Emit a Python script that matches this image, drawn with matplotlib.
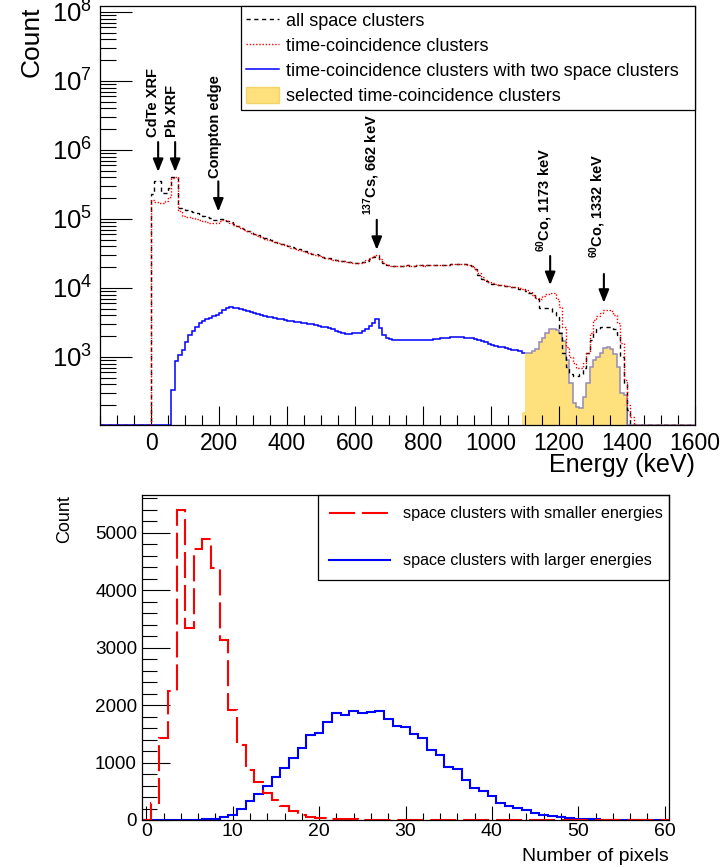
import numpy as np
import matplotlib
matplotlib.use('Agg')
import matplotlib.pyplot as plt
from matplotlib.lines import Line2D
from matplotlib.patches import Patch
from matplotlib.ticker import MultipleLocator, LogLocator, NullFormatter

plt.rcParams['font.family'] = ['Liberation Sans', 'DejaVu Sans']
plt.rcParams['mathtext.fontset'] = 'custom'
plt.rcParams['mathtext.rm'] = 'Liberation Sans'
plt.rcParams['mathtext.bf'] = 'Liberation Sans:bold'
plt.rcParams['mathtext.it'] = 'Liberation Sans:italic'

# ---------------- top panel data (counts per 10 keV bin) ----------------
bin_width_kev = 10
hist_range_kev = (-150, 1600)

all_space_start_kev = 0
all_space = [
    2.3e5, 3.5e5, 3.5e5, 2.4e5, 2.4e5, 2.8e5, 4.1e5, 4.1e5, 1.45e5, 1.38e5,   # 0-90
    1.33e5, 1.3e5, 1.26e5, 1.22e5, 1.17e5, 1.12e5, 1.07e5, 1.02e5, 9.8e4, 9.8e4,  # 100-190
    1.0e5, 9.9e4, 9.4e4, 8.9e4, 8.4e4, 7.9e4, 7.5e4, 7.1e4, 6.7e4, 6.4e4,  # 200-290
    6.1e4, 5.8e4, 5.55e4, 5.3e4, 5.1e4, 4.9e4, 4.7e4, 4.55e4, 4.4e4, 4.25e4,  # 300-390
    4.1e4, 3.95e4, 3.8e4, 3.65e4, 3.5e4, 3.4e4, 3.25e4, 3.15e4, 3.05e4, 2.95e4,  # 400-490
    2.85e4, 2.75e4, 2.7e4, 2.62e4, 2.55e4, 2.5e4, 2.45e4, 2.4e4, 2.37e4, 2.35e4,  # 500-590
    2.33e4, 2.33e4, 2.35e4, 2.45e4, 2.6e4, 2.8e4, 2.9e4, 2.6e4, 2.3e4, 2.18e4,  # 600-690
    2.12e4, 2.1e4, 2.08e4, 2.1e4, 2.1e4, 2.12e4, 2.1e4, 2.1e4, 2.12e4, 2.12e4,  # 700-790
    2.1e4, 2.12e4, 2.14e4, 2.14e4, 2.15e4, 2.15e4, 2.16e4, 2.18e4, 2.2e4, 2.2e4,  # 800-890
    2.22e4, 2.22e4, 2.2e4, 2.15e4, 2.05e4, 1.85e4, 1.55e4, 1.35e4, 1.25e4, 1.18e4,  # 900-990
    1.15e4, 1.12e4, 1.1e4, 1.08e4, 1.07e4, 1.05e4, 1.03e4, 1.0e4, 9.8e3, 9.5e3,  # 1000-1090
    9.0e3, 8.5e3, 7.8e3, 6.8e3, 5.2e3, 5.2e3, 5.2e3, 5.1e3, 4.5e3, 3.8e3,  # 1100-1190
    2.2e3, 1.15e3, 720, 560, 520, 520, 560, 690, 1.15e3, 1.76e3,  # 1200-1290
    2.2e3, 2.5e3, 2.75e3, 2.75e3, 2.75e3, 2.7e3, 2.5e3, 2.1e3, 1.0e3, 400,  # 1300-1390
    170,  # 1400
]

time_coinc_start_kev = 0
time_coinc = [
    1.85e5, 1.75e5, 1.72e5, 1.72e5, 1.8e5, 2.05e5, 3.9e5, 4.1e5, 1.3e5, 1.12e5,  # 0-90
    1.08e5, 1.05e5, 1.02e5, 9.9e4, 9.6e4, 9.3e4, 9.0e4, 8.7e4, 8.6e4, 8.8e4,  # 100-190
    9.3e4, 9.6e4, 9.2e4, 8.8e4, 8.3e4, 7.8e4, 7.4e4, 7.0e4, 6.6e4, 6.3e4,  # 200-290
    6.0e4, 5.7e4, 5.45e4, 5.2e4, 5.0e4, 4.8e4, 4.6e4, 4.45e4, 4.3e4, 4.15e4,  # 300-390
    4.0e4, 3.85e4, 3.7e4, 3.55e4, 3.45e4, 3.35e4, 3.2e4, 3.1e4, 3.0e4, 2.9e4,  # 400-490
    2.8e4, 2.72e4, 2.65e4, 2.58e4, 2.52e4, 2.47e4, 2.42e4, 2.38e4, 2.35e4, 2.33e4,  # 500-590
    2.32e4, 2.33e4, 2.36e4, 2.5e4, 2.7e4, 2.9e4, 3.0e4, 2.6e4, 2.3e4, 2.17e4,  # 600-690
    2.1e4, 2.1e4, 2.08e4, 2.1e4, 2.1e4, 2.12e4, 2.1e4, 2.1e4, 2.12e4, 2.12e4,  # 700-790
    2.1e4, 2.12e4, 2.14e4, 2.14e4, 2.15e4, 2.15e4, 2.16e4, 2.18e4, 2.2e4, 2.2e4,  # 800-890
    2.22e4, 2.22e4, 2.2e4, 2.16e4, 2.08e4, 1.9e4, 1.65e4, 1.45e4, 1.3e4, 1.22e4,  # 900-990
    1.18e4, 1.15e4, 1.12e4, 1.1e4, 1.08e4, 1.06e4, 1.04e4, 1.02e4, 1.0e4, 9.8e3,  # 1000-1090
    9.3e3, 8.8e3, 8.0e3, 7.2e3, 7.0e3, 7.6e3, 8.2e3, 8.5e3, 8.4e3, 7.0e3,  # 1100-1190
    5.3e3, 2.7e3, 1.4e3, 1.0e3, 820, 690, 700, 820, 1.15e3, 2.2e3,  # 1200-1290
    3.4e3, 3.9e3, 4.3e3, 4.8e3, 4.8e3, 4.6e3, 4.1e3, 3.1e3, 1.6e3, 460,  # 1300-1390
    200, 134,  # 1400-1410
]

two_space_start_kev = 60
two_space = [
    330, 880, 1.07e3, 1.26e3,  # 60-90
    1.67e3, 2.08e3, 2.4e3, 2.75e3, 3.1e3, 3.3e3, 3.5e3, 3.7e3, 3.9e3, 4.1e3,  # 100-190
    4.4e3, 4.8e3, 5.1e3, 5.25e3, 5.2e3, 5.05e3, 4.9e3, 4.75e3, 4.6e3, 4.45e3,  # 200-290
    4.3e3, 4.2e3, 4.1e3, 3.95e3, 3.8e3, 3.75e3, 3.65e3, 3.55e3, 3.5e3, 3.45e3,  # 300-390
    3.35e3, 3.3e3, 3.25e3, 3.2e3, 3.1e3, 3.05e3, 3.0e3, 2.95e3, 2.9e3, 2.85e3,  # 400-490
    2.75e3, 2.7e3, 2.6e3, 2.5e3, 2.4e3, 2.3e3, 2.2e3, 2.15e3, 2.15e3, 2.2e3,  # 500-590
    2.2e3, 2.25e3, 2.35e3, 2.5e3, 2.8e3, 3.1e3, 3.5e3, 2.6e3, 2.1e3, 1.9e3,  # 600-690
    1.8e3, 1.78e3, 1.78e3, 1.76e3, 1.76e3, 1.75e3, 1.75e3, 1.74e3, 1.73e3, 1.73e3,  # 700-790
    1.73e3, 1.73e3, 1.78e3, 1.8e3, 1.82e3, 1.85e3, 1.88e3, 1.9e3, 1.92e3, 1.93e3,  # 800-890
    1.93e3, 1.92e3, 1.9e3, 1.88e3, 1.85e3, 1.8e3, 1.75e3, 1.7e3, 1.62e3, 1.55e3,  # 900-990
    1.5e3, 1.45e3, 1.4e3, 1.37e3, 1.33e3, 1.3e3, 1.27e3, 1.25e3, 1.2e3, 1.15e3,  # 1000-1090
]

selected_start_kev = 1090
selected = [
    160,  # 1090
    1.13e3, 1.15e3, 1.2e3, 1.3e3, 1.67e3, 1.9e3, 2.2e3, 2.5e3, 2.5e3, 2.45e3,  # 1100-1190
    2.2e3, 1.7e3, 900, 420, 215, 190, 180, 265, 420, 720,  # 1200-1290
    900, 1.0e3, 1.13e3, 1.35e3, 1.4e3, 1.3e3, 1.1e3, 720, 300, 280,  # 1300-1390
]

legend_top = ['all space clusters', 'time-coincidence clusters',
              'time-coincidence clusters with two space clusters',
              'selected time-coincidence clusters']

ann_labels = ['CdTe XRF', 'Pb XRF', 'Compton edge', r'$^{\mathbf{137}}$Cs, 662 keV',
              r'$^{\mathbf{60}}$Co, 1173 keV', r'$^{\mathbf{60}}$Co, 1332 keV']
ann_label_kev = [6, 61, 188, 649, 1159, 1315]
ann_label_base = [1.54e6, 1.54e6, 3.93e5, 1.14e5, 3.3e4, 2.72e4]
arrow_kev = [21, 71, 198, 664, 1174, 1332]
arrow_tail = [1.3e6, 1.3e6, 3.5e5, 9.7e4, 2.9e4, 1.59e4]
arrow_head = [4.8e5, 4.8e5, 1.28e5, 3.56e4, 1.1e4, 6.1e3]

# ---------------- bottom panel data (counts per pixel multiplicity) ----------------
n_pixels = list(range(0, 61))
smaller_energy = [
    0, 290, 1420, 2240, 5400, 3340, 4715, 4880, 4385, 3124,
    1916, 1300, 865, 660, 465, 355, 244, 150, 95, 58,
    40, 35, 23, 15, 10, 8, 6, 5, 4, 3,
    3, 2, 2, 1, 1, 1, 1, 0, 0, 0,
    0, 0, 0, 0, 0, 0, 0, 0, 0, 0,
    0, 0, 0, 0, 0, 0, 0, 0, 0, 0, 0,
]
larger_energy = [
    0, 0, 0, 0, 0, 0, 0, 10, 25, 45,
    87, 200, 330, 460, 600, 740, 900, 1080, 1260, 1480,
    1515, 1696, 1858, 1829, 1899, 1858, 1870, 1899, 1750, 1638,
    1609, 1498, 1423, 1219, 1132, 929, 882, 697, 563, 505,
    418, 290, 244, 203, 174, 128, 87, 70, 46, 29,
    25, 12, 10, 8, 6, 5, 4, 3, 2, 2, 1,
]
legend_bottom = ['space clusters with smaller energies', 'space clusters with larger energies']

# ---------------- figure ----------------
W, H = 725, 867
fig = plt.figure(figsize=(W / 100, H / 100), dpi=100)

ax1 = fig.add_axes([100 / W, 1 - 425 / H, 595 / W, 419 / H])
ax2 = fig.add_axes([142 / W, 1 - 820 / H, 527 / W, 325 / H])

ymin_top, ymax_top = 103, 1.22e8
edges = np.arange(hist_range_kev[0], hist_range_kev[1] + bin_width_kev, bin_width_kev)
nb = len(edges) - 1


def bin_index(kev):
    return int((kev - hist_range_kev[0]) // bin_width_kev)


def fill_bins(values, start_kev):
    arr = np.zeros(nb)
    i0 = bin_index(start_kev)
    arr[i0:i0 + len(values)] = values
    return np.where(arr > 0, arr, ymin_top)


yellow = '#FEE07C'
h_all = fill_bins(all_space, all_space_start_kev)
h_tc = fill_bins(time_coinc, time_coinc_start_kev)
h_two = fill_bins(two_space, two_space_start_kev)
h_sel = fill_bins(selected, selected_start_kev)

i_two_end = bin_index(two_space_start_kev) + len(two_space)
i_sel_main = bin_index(selected_start_kev) + 1

ax1.stairs(h_sel, edges, baseline=ymin_top, fill=True, facecolor=yellow, edgecolor='none', zorder=1)
ax1.stairs(h_sel[i_sel_main:], edges[i_sel_main:], baseline=None, fill=False,
           edgecolor='#968cb4', linewidth=1.1, zorder=2)
ax1.stairs(h_two[:i_two_end], edges[:i_two_end + 1], baseline=None, fill=False,
           edgecolor='#0000ff', linewidth=1.1, zorder=3)
ax1.stairs(h_all, edges, baseline=ymin_top, fill=False, edgecolor='black', linewidth=1.0,
           linestyle=(0, (3, 2.6)), zorder=4)
ax1.stairs(h_tc, edges, baseline=ymin_top, fill=False, edgecolor='#ff0000', linewidth=1.0,
           linestyle=(0, (1, 1.3)), zorder=5)

ax1.set_xlim(*hist_range_kev)
ax1.set_yscale('log')
ax1.set_ylim(ymin_top, ymax_top)
ax1.xaxis.set_major_locator(MultipleLocator(200))
ax1.xaxis.set_minor_locator(MultipleLocator(50))
ax1.yaxis.set_major_locator(LogLocator(base=10))
ax1.yaxis.set_minor_locator(LogLocator(base=10, subs=np.arange(2, 10)))
ax1.yaxis.set_minor_formatter(NullFormatter())
ax1.tick_params(axis='both', which='both', direction='in', top=False, right=False, width=0.8, color='black')
ax1.tick_params(axis='y', which='major', length=23, pad=5.5, labelsize=18.5)
ax1.tick_params(axis='y', which='minor', length=11.5)
ax1.tick_params(axis='x', which='major', length=13.7, pad=5, labelsize=16.5)
ax1.tick_params(axis='x', which='minor', length=7)
for s in ax1.spines.values():
    s.set_linewidth(0.9)
    s.set_zorder(6)

ax1.set_ylabel('Count', loc='top', fontsize=19)
ax1.yaxis.set_label_coords(-0.095, 1.0)
ax1.set_xlabel('Energy (keV)', loc='right', fontsize=18)
ax1.xaxis.set_label_coords(1.0, -0.066)

for lab, lx, ly, ax_, at, ah in zip(ann_labels, ann_label_kev, ann_label_base,
                                     arrow_kev, arrow_tail, arrow_head):
    ax1.text(lx, ly, lab, rotation=90, ha='center', va='bottom', fontsize=10.5,
             fontweight='bold', zorder=7)
    ax1.annotate('', xy=(ax_, ah), xytext=(ax_, at),
                 arrowprops=dict(arrowstyle='-|>,head_length=0.55,head_width=0.22',
                                 color='black', lw=1.5, mutation_scale=14,
                                 shrinkA=0, shrinkB=0), zorder=7)

handles_top = [
    Line2D([], [], color='black', lw=1.0, linestyle=(0, (3, 2.6))),
    Line2D([], [], color='#ff0000', lw=1.0, linestyle=(0, (1, 1.3))),
    Line2D([], [], color='#0000ff', lw=1.1),
    Patch(facecolor=yellow, edgecolor='#f3d46a'),
]
leg1 = ax1.legend(handles_top, legend_top, loc='upper left',
                  bbox_to_anchor=(0.237, 0.754, 0.763, 0.246), mode='expand',
                  borderaxespad=0, fontsize=13, frameon=True, fancybox=False,
                  edgecolor='black', framealpha=1, handlelength=1.78,
                  handleheight=1.0, handletextpad=0.4, borderpad=0.3,
                  labelspacing=0.38)
leg1.get_frame().set_linewidth(0.9)
leg1.set_zorder(8)

# ---------------- bottom panel ----------------
px_edges = np.arange(n_pixels[0] - 0.5, n_pixels[-1] + 1.0, 1.0)
ax2.stairs(larger_energy, px_edges, baseline=0, fill=False, edgecolor='#0000ff', linewidth=1.5, zorder=3)
ax2.stairs(smaller_energy, px_edges, baseline=0, fill=False, edgecolor='#ff0000', linewidth=1.5,
           linestyle=(0, (12.5, 3.3)), zorder=4)

ax2.set_xlim(px_edges[0], px_edges[-1])
ax2.set_ylim(0, 5653)
ax2.xaxis.set_major_locator(MultipleLocator(10))
ax2.xaxis.set_minor_locator(MultipleLocator(2))
ax2.yaxis.set_major_locator(MultipleLocator(1000))
ax2.yaxis.set_minor_locator(MultipleLocator(200))
ax2.tick_params(axis='both', which='both', direction='in', top=False, right=False, width=0.8, color='black')
ax2.tick_params(axis='y', which='major', length=20, pad=3.6, labelsize=13.6)
ax2.tick_params(axis='y', which='minor', length=10.8)
ax2.tick_params(axis='x', which='major', length=10, pad=2.5, labelsize=14)
ax2.tick_params(axis='x', which='minor', length=5)
for s in ax2.spines.values():
    s.set_linewidth(0.9)
    s.set_zorder(6)

ax2.set_ylabel('Count', loc='top', fontsize=13)
ax2.yaxis.set_label_coords(-0.13, 1.0)
ax2.set_xlabel('Number of pixels', loc='right', fontsize=14)
ax2.xaxis.set_label_coords(1.0, -0.086)

handles_bot = [
    Line2D([], [], color='#ff0000', lw=1.5, linestyle=(0, (12.5, 3.3))),
    Line2D([], [], color='#0000ff', lw=1.5),
]
leg2 = ax2.legend(handles_bot, legend_bottom, loc='upper left',
                  bbox_to_anchor=(0.3336, 0.7446, 0.6664, 0.2554), mode='expand',
                  borderaxespad=0, fontsize=11.6, frameon=True, fancybox=False,
                  edgecolor='black', framealpha=1, handlelength=3.8,
                  handletextpad=0.8, borderpad=0.7, labelspacing=2.0)
leg2.get_frame().set_linewidth(0.9)

fig.savefig('out.png', dpi=100)
